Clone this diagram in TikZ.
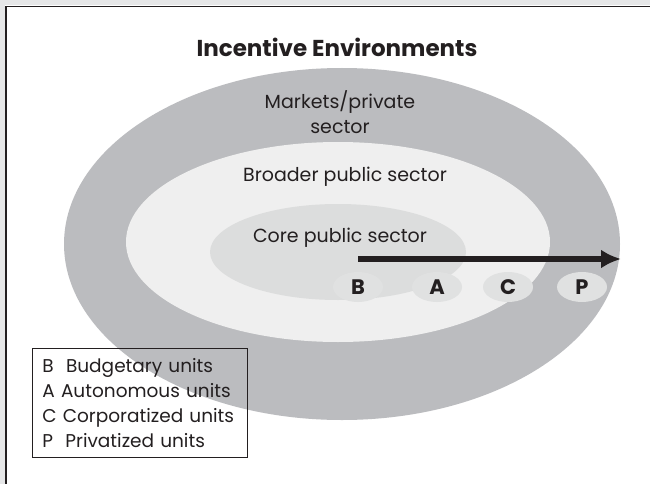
\documentclass[tikz,border=0pt]{standalone}
\usepackage{fontspec}
\setmainfont{Poppins}
\usetikzlibrary{arrows.meta,shapes.geometric}
\definecolor{framegray}{HTML}{E6E7E8}
\definecolor{outergray}{HTML}{BBBCBF}
\definecolor{midgray}{HTML}{EFEFEF}
\definecolor{coregray}{HTML}{DCDDDD}
\definecolor{unitgray}{HTML}{E0E1E1}
\definecolor{inkgray}{HTML}{231F20}

\begin{document}
\begin{tikzpicture}[x=1pt,y=-1pt,>={Latex[length=20pt,width=19pt]},
    unit/.style={ellipse,fill=unitgray,minimum width=50pt,minimum height=30pt,inner sep=0pt,font=\fontsize{21}{24}\selectfont\bfseries,text=inkgray},
    sector/.style={font=\fontsize{19}{25}\selectfont,align=center,text=inkgray}]
            \useasboundingbox (0,0) rectangle (650,484);
            \fill[white] (0,0) rectangle (650,484);
            \fill[framegray] (0,0) rectangle (650,5);
            \fill[framegray] (0,0) rectangle (5,484);
            \draw[inkgray,line width=1.6pt] (6,484) -- (6,6.5) -- (650,6.5);
            \node[font=\fontsize{23}{26}\selectfont\bfseries,text=inkgray] (title) at (337,47) {Incentive Environments};
            \fill[outergray] (342,244) ellipse [x radius=278pt,y radius=176pt];
            \fill[midgray] (338,242) ellipse [x radius=212pt,y radius=100pt];
            \fill[coregray] (338,252) ellipse [x radius=128pt,y radius=48pt];
            \node[sector] (market) at (340,112) {Markets/private\\sector};
            \node[sector] (broad) at (345,177) {Broader public sector};
            \node[sector] (core) at (340,238) {Core public sector};
            \foreach \u/\x in {B/358,A/437,C/508,P/582}
            {
                \node[unit] (\u) at (\x,287) {\u};
            }
            \coordinate (start) at (B.center |- 0,259);
            \coordinate (end) at (621,259);
            \draw[->,line width=5.5pt,inkgray] (start) -- (end);
            \node[draw=inkgray,line width=0.8pt,anchor=north west,minimum width=215pt,minimum height=109pt,text width=195pt,inner xsep=10pt,align=left,font=\fontsize{18.5}{25}\selectfont,text=inkgray] (legend) at (32,348)
            {B\ \ Budgetary units\\A Autonomous units\\C Corporatized units\\P\ \ Privatized units};
        \end{tikzpicture}
\end{document}
